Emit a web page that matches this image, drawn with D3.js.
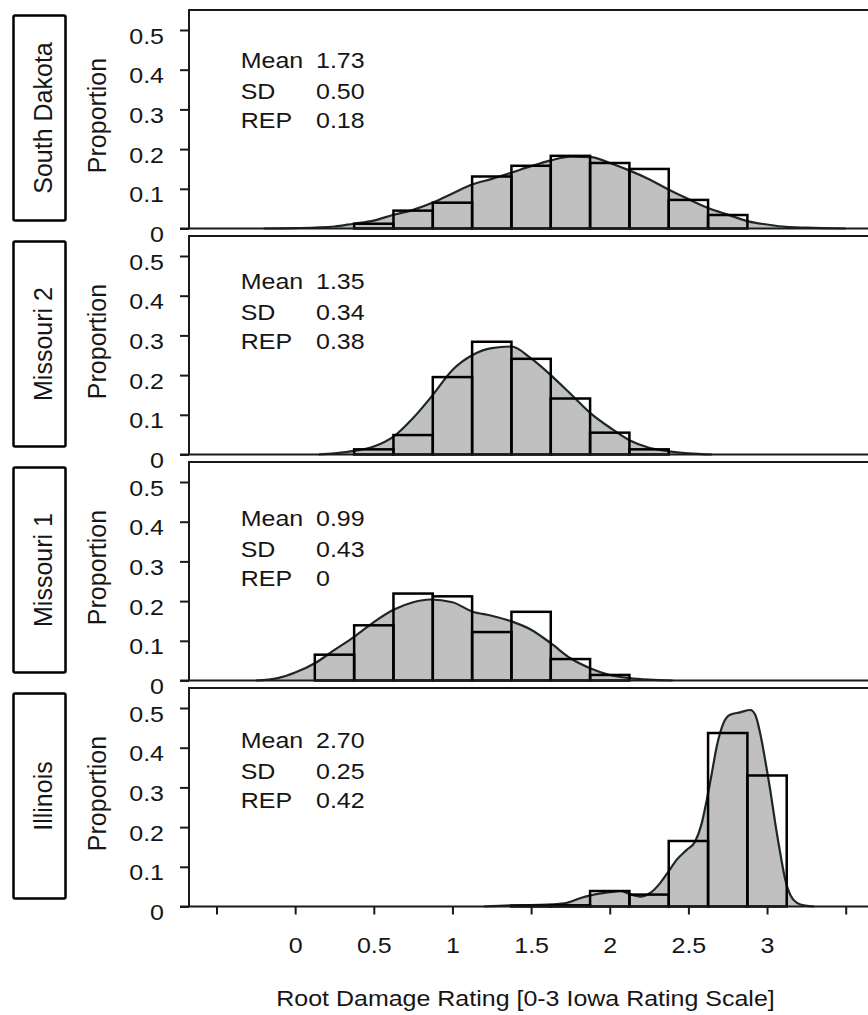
<!DOCTYPE html>
<html>
<head>
<meta charset="utf-8">
<script src="https://cdn.jsdelivr.net/npm/d3@7"></script>
<style>
body { margin: 0; background: #fff; }
text { font-family: "Liberation Sans", Arial, sans-serif; fill: #161616; }
</style>
</head>
<body>
<script>
// panels, top to bottom
var states = ["South Dakota", "Missouri 2", "Missouri 1", "Illinois"];
var means = ["1.73", "1.35", "0.99", "2.70"];
var sds = ["0.50", "0.34", "0.43", "0.25"];
var reps = ["0.18", "0.38", "0", "0.42"];

// histogram bars: bin centre (bins are 0.25 wide) and proportion
var sdBins = [0.5, 0.75, 1, 1.25, 1.5, 1.75, 2, 2.25, 2.5, 2.75];
var sdProp = [0.012, 0.045, 0.065, 0.131, 0.158, 0.183, 0.165, 0.15, 0.072, 0.034];
var mo2Bins = [0.5, 0.75, 1, 1.25, 1.5, 1.75, 2, 2.25];
var mo2Prop = [0.013, 0.049, 0.195, 0.284, 0.241, 0.141, 0.055, 0.013];
var mo1Bins = [0.25, 0.5, 0.75, 1, 1.25, 1.5, 1.75, 2];
var mo1Prop = [0.065, 0.139, 0.219, 0.212, 0.122, 0.173, 0.054, 0.014];
var ilBins = [1.5, 1.75, 2, 2.25, 2.5, 2.75, 3];
var ilProp = [0.002, 0.003, 0.039, 0.030, 0.165, 0.437, 0.33];

// density curves
var sdCurveX = [-0.2, 0, 0.25, 0.37, 0.5, 0.62, 0.75, 0.88, 1, 1.12, 1.25, 1.37, 1.5, 1.62, 1.75, 1.88, 2, 2.12, 2.25, 2.37, 2.5, 2.63, 2.75, 2.88, 3, 3.12, 3.25, 3.5];
var sdCurveY = [0, 0.001, 0.005, 0.012, 0.02, 0.034, 0.047, 0.066, 0.088, 0.11, 0.125, 0.14, 0.157, 0.171, 0.181, 0.18, 0.165, 0.147, 0.124, 0.099, 0.074, 0.051, 0.035, 0.018, 0.01, 0.004, 0.002, 0];
var mo2CurveX = [0.15, 0.25, 0.375, 0.5, 0.625, 0.75, 0.875, 1, 1.125, 1.25, 1.375, 1.5, 1.625, 1.75, 1.875, 2, 2.125, 2.25, 2.375, 2.5, 2.65];
var mo2CurveY = [0, 0.003, 0.009, 0.02, 0.045, 0.092, 0.15, 0.213, 0.25, 0.268, 0.272, 0.242, 0.2, 0.153, 0.105, 0.068, 0.036, 0.017, 0.008, 0.003, 0];
var mo1CurveX = [-0.25, -0.11, 0, 0.128, 0.25, 0.375, 0.5, 0.625, 0.75, 0.86, 1, 1.125, 1.25, 1.375, 1.5, 1.625, 1.75, 1.875, 2, 2.125, 2.25, 2.4];
var mo1CurveY = [0, 0.006, 0.02, 0.044, 0.077, 0.11, 0.147, 0.178, 0.197, 0.204, 0.197, 0.174, 0.163, 0.149, 0.128, 0.094, 0.056, 0.031, 0.014, 0.006, 0.002, 0];
var ilCurveX = [1.2, 1.37, 1.555, 1.71, 1.82, 1.88, 2, 2.07, 2.12, 2.193, 2.257, 2.32, 2.373, 2.426, 2.49, 2.543, 2.585, 2.617, 2.649, 2.68, 2.723, 2.765, 2.829, 2.893, 2.925, 2.956, 2.988, 3.02, 3.052, 3.084, 3.116, 3.148, 3.19, 3.243, 3.3];
var ilCurveY = [0, 0.003, 0.004, 0.008, 0.022, 0.028, 0.036, 0.039, 0.032, 0.025, 0.034, 0.059, 0.088, 0.118, 0.143, 0.164, 0.21, 0.269, 0.336, 0.403, 0.462, 0.483, 0.489, 0.495, 0.483, 0.437, 0.369, 0.294, 0.21, 0.134, 0.067, 0.029, 0.009, 0.002, 0];

var yTicks = [0, 0.1, 0.2, 0.3, 0.4, 0.5];
var xTicks = [-0.5, 0, 0.5, 1, 1.5, 2, 2.5, 3, 3.5];
var xTitle = "Root Damage Rating [0-3 Iowa Rating Scale]";

var panels = [
  {bins: sdBins, prop: sdProp, cx: sdCurveX, cy: sdCurveY},
  {bins: mo2Bins, prop: mo2Prop, cx: mo2CurveX, cy: mo2CurveY},
  {bins: mo1Bins, prop: mo1Prop, cx: mo1CurveX, cy: mo1CurveY},
  {bins: ilBins, prop: ilProp, cx: ilCurveX, cy: ilCurveY}
];

// layout
var width = 868, height = 1015;
var frameLeft = 189;
var panelBase = [228.5, 454.5, 680.5, 906.5];   // y of the zero line
var statBase = [68.3, 289, 526, 748.3];         // baseline of "Mean" row
var fs = 25;
var squash = "scale(1,0.9)";   // the source text is a little flatter than the font

var svg = d3.select("body").append("svg")
    .attr("width", width)
    .attr("height", height);

var x = d3.scaleLinear().domain([-0.5, 3.5]).range([216.5, 845.7]);

function flatText(sel, tx, ty, str) {
  return sel.append("text")
      .attr("transform", "translate(" + tx + "," + ty + ") " + squash)
      .style("font-size", fs + "px")
      .text(str);
}

panels.forEach(function(p, i) {
  var y0 = panelBase[i];
  var y = d3.scaleLinear().domain([0, 0.5]).range([y0, y0 - 198.5]);
  var g = svg.append("g").attr("class", "panel");

  // density area + line
  var pts = p.cx.map(function(v, k) { return [v, p.cy[k]]; });
  var area = d3.area()
      .x(function(d) { return x(d[0]); })
      .y0(y0)
      .y1(function(d) { return y(d[1]); })
      .curve(d3.curveMonotoneX);
  var line = d3.line()
      .x(function(d) { return x(d[0]); })
      .y(function(d) { return y(d[1]); })
      .curve(d3.curveMonotoneX);
  g.append("path").attr("d", area(pts)).attr("fill", "#c0c0c0");
  g.append("path").attr("d", line(pts))
      .attr("fill", "none").attr("stroke", "#1c2a1c").attr("stroke-width", 2.2);

  // histogram outlines
  g.selectAll("rect.bar")
    .data(p.bins.map(function(c, k) { return {c: c, v: p.prop[k]}; }))
    .enter().append("rect")
      .attr("class", "bar")
      .attr("x", function(d) { return x(d.c - 0.125); })
      .attr("width", function(d) { return x(d.c + 0.125) - x(d.c - 0.125); })
      .attr("y", function(d) { return y(d.v); })
      .attr("height", function(d) { return y0 - y(d.v); })
      .attr("fill", "none")
      .attr("stroke", "#000")
      .attr("stroke-width", 2.5);

  // frame: left, top, zero line
  var top = y0 - 218.5;
  g.append("path")
      .attr("d", "M" + (width + 5) + "," + top + "H" + frameLeft + "V" + y0)
      .attr("fill", "none").attr("stroke", "#1a1a1a").attr("stroke-width", 2);
  g.append("line")
      .attr("x1", frameLeft - 9).attr("x2", width + 5)
      .attr("y1", y0).attr("y2", y0)
      .attr("stroke", "#1a1a1a").attr("stroke-width", 2);

  // y axis
  var yAxis = g.append("g")
      .attr("transform", "translate(" + frameLeft + ",0)")
      .call(d3.axisLeft(y).tickValues(yTicks).tickSize(9).tickSizeOuter(0).tickPadding(16)
        .tickFormat(function(d) { return d === 0 ? "0" : d3.format(".1f")(d); }));
  yAxis.select(".domain").remove();
  yAxis.selectAll(".tick line").attr("stroke", "#1a1a1a").attr("stroke-width", 2);
  yAxis.selectAll(".tick text")
      .attr("dy", "0.58em")
      .attr("transform", squash)
      .style("font-size", fs + "px")
      .style("font-family", "'Liberation Sans', Arial, sans-serif")
      .attr("fill", "#161616");

  g.append("text")
      .attr("transform", "translate(106," + (y0 - 113) + ") rotate(-90)")
      .attr("text-anchor", "middle")
      .style("font-size", fs + "px")
      .text("Proportion");

  // state label box
  g.append("rect")
      .attr("x", 13.5).attr("y", y0 - 213)
      .attr("width", 52).attr("height", 205)
      .attr("rx", 1.5)
      .attr("fill", "#fff").attr("stroke", "#000").attr("stroke-width", 2.5);
  g.append("text")
      .attr("transform", "translate(51.5," + (y0 - 110.5) + ") rotate(-90)")
      .attr("text-anchor", "middle")
      .style("font-size", fs + "px")
      .text(states[i]);

  // summary stats
  var rows = [["Mean", means[i]], ["SD", sds[i]], ["REP", reps[i]]];
  var rowOff = [0, 31, 59.5];
  rows.forEach(function(r, k) {
    flatText(g, 240.7, statBase[i] + rowOff[k], r[0]);
    flatText(g, 316, statBase[i] + rowOff[k], r[1]);
  });

  // x axis on the bottom panel only
  if (i === panels.length - 1) {
    var xAxis = g.append("g")
        .attr("transform", "translate(0," + y0 + ")")
        .call(d3.axisBottom(x).tickValues(xTicks).tickSize(8).tickSizeOuter(0).tickPadding(21)
          .tickFormat(function(d) { return (d < 0 || d > 3) ? "" : String(d); }));
    xAxis.select(".domain").remove();
    xAxis.selectAll(".tick line").attr("stroke", "#1a1a1a").attr("stroke-width", 2);
    xAxis.selectAll(".tick text")
        .attr("y", 34)
        .attr("transform", squash)
        .style("font-size", fs + "px")
        .style("font-family", "'Liberation Sans', Arial, sans-serif")
        .attr("fill", "#161616");
  }
});

flatText(svg, 525.5, 1006, xTitle).attr("text-anchor", "middle");
</script>
</body>
</html>
